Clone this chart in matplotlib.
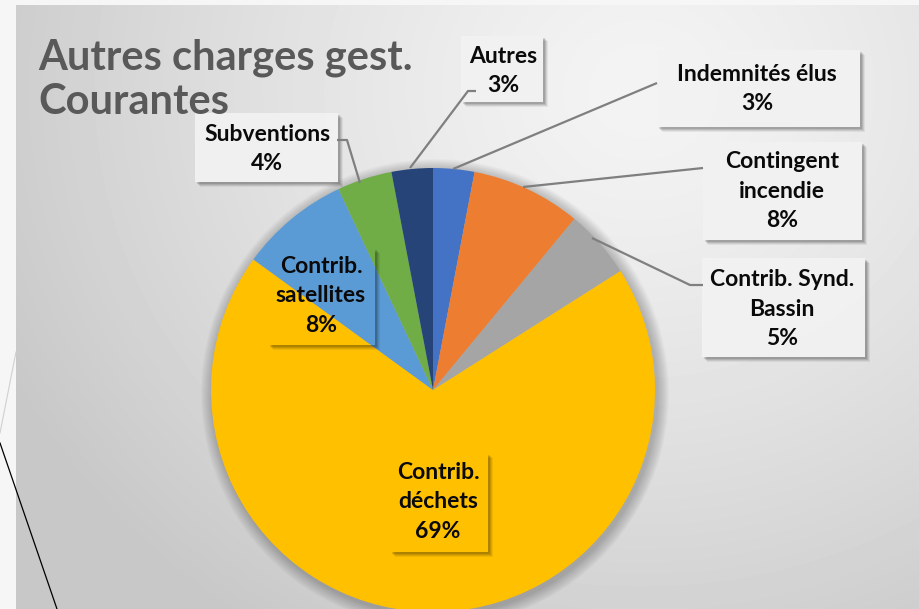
import numpy as np
import matplotlib.pyplot as plt
from matplotlib.patches import Rectangle, Circle

#-----------------------------------Data---------------------------------------

labels = ["Indemnités élus", "Contingent\nincendie", "Contrib. Synd.\nBassin",
          "Contrib.\ndéchets", "Contrib.\nsatellites", "Subventions", "Autres"]
values = [3, 8, 5, 69, 8, 4, 3]
colors = ["#4472C4", "#ED7D31", "#A5A5A5", "#FFC000", "#5B9BD5", "#70AD47", "#264478"]
title = "Autres charges gest.\nCourantes"

W, H = 920, 609
cx, cy, rad = 433, 390, 222

# label boxes (x0, y0, x1, y1) and text centres, in pixels (y downwards)
boxes = [(657, 50, 860, 127), (703, 142, 862, 240), (702, 258, 865, 357),
         (390, 453, 488, 552), (268, 248, 375, 345), (195, 113, 338, 182),
         (461, 36, 543, 102)]
text_xy = [(757, 89), (782, 191), (782, 309), (438, 502), (321, 296),
           (267, 149), (503, 71)]
inside = [False, False, False, True, True, False, False]
leaders = [[(657, 83), (453, 169)],
           [(703, 168), (523, 187)],
           [(703, 285), (690, 285), (592, 238)],
           None, None,
           [(337, 140), (347, 140), (360, 183)],
           [(476, 91), (468, 91), (410, 168)]]

#-----------------------------------Figure-------------------------------------

fig = plt.figure(figsize=(W / 100, H / 100), dpi=100)
fig.patch.set_facecolor("#f6f6f6")
ax = fig.add_axes([0, 0, 1, 1])

# gradient background of the chart area
gx, gy = np.meshgrid(np.arange(16, W), np.arange(5, H))
d = np.hypot(gx - 640, (gy - 90) * 1.1)
shade = 0.955 - 0.17 * np.clip(d / 700, 0, 1) ** 1.3
ax.imshow(shade, cmap="gray", vmin=0, vmax=1, extent=(16, W, H, 5),
          interpolation="bilinear", zorder=0)

# decoration at the left edge
ax.plot([0, 57], [443, 609], color="black", lw=0.9, zorder=1)
ax.plot([16, 0], [352, 433], color="#d0d0d0", lw=0.8, zorder=1)

# soft shadow under the pie
for k in range(12, 0, -1):
    ax.add_patch(Circle((cx + 2, cy + 3), rad + k, color="black",
                        alpha=0.018, lw=0, zorder=1))

wedges, _ = ax.pie(values, colors=colors, startangle=-90, counterclock=True,
                   center=(cx, cy), radius=rad,
                   wedgeprops=dict(linewidth=0, zorder=2))

# label boxes with a shadow on the right and bottom
for (x0, y0, x1, y1), ins in zip(boxes, inside):
    for k, a in [(5, 0.06), (4, 0.08), (3, 0.1), (2, 0.12)]:
        ax.add_patch(Rectangle((x1, y0 + k), k, y1 - y0, color="black",
                               alpha=a, lw=0, zorder=3))
        ax.add_patch(Rectangle((x0 + k, y1), x1 - x0 - k, k, color="black",
                               alpha=a, lw=0, zorder=3))
    if not ins:
        ax.add_patch(Rectangle((x0, y0), x1 - x0, y1 - y0, color="#f2f2f2",
                               alpha=0.93, lw=0, zorder=4))

for pts in leaders:
    if pts:
        xs, ys = zip(*pts)
        ax.plot(xs, ys, color="#7f7f7f", lw=1.6, zorder=5,
                solid_capstyle="butt")

for lab, val, (tx, ty) in zip(labels, values, text_xy):
    ax.text(tx, ty, f"{lab}\n{val}%", ha="center", va="center",
            fontsize=16.5, fontweight="bold", family="Lato", color="#0a0a0a",
            linespacing=1.5, zorder=6)

ax.text(38, 80, title, ha="left", va="center", fontsize=30,
        fontweight="bold", family="Lato", color="#595959",
        linespacing=1.2, zorder=6)

ax.set_aspect("auto")
ax.set_xlim(0, W)
ax.set_ylim(H, 0)
ax.axis("off")

fig.savefig("out.png", dpi=100)
